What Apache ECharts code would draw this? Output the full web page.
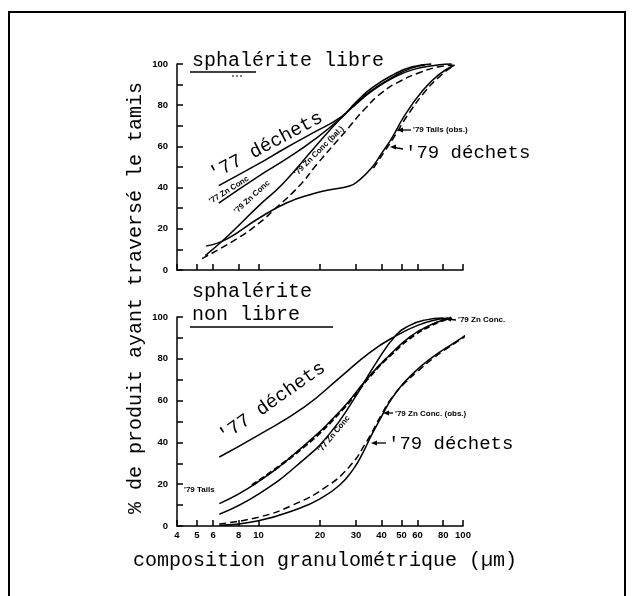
<!DOCTYPE html>
<html>
<head>
<meta charset="utf-8">
<script src="https://cdn.jsdelivr.net/npm/echarts@6/dist/echarts.min.js"></script>
<style>
html,body{margin:0;padding:0;background:#fff;}
#chart{width:633px;height:596px;}
</style>
</head>
<body>
<div id="chart"></div>
<script>
// ---------- DATA (x in µm, y in % passing) ----------
const xTickValues = [4, 5, 6, 8, 10, 20, 30, 40, 50, 60, 80, 100];
const yTickValues = [0, 20, 40, 60, 80, 100];

// Top panel : sphalérite libre
const top77DechetsX = [6.4, 10, 13.2, 18, 25.5, 30, 36, 46, 56, 70];
const top77DechetsY = [41, 51.5, 58.5, 66, 74.5, 81.5, 88.5, 95, 98.5, 100];
const top77ZnX = [6.4, 10, 14, 18.9, 25.5, 30, 36, 46, 56, 65];
const top77ZnY = [32.5, 45.5, 54.5, 63.5, 74, 81, 87.5, 94, 98, 99.5];
const top79ZnX = [5.5, 7, 10, 13.2, 19, 25.5, 30, 36, 46, 58, 75, 88];
const top79ZnY = [7, 16, 31, 42, 60, 74, 80.5, 87, 93.5, 97.5, 99.5, 100];
const top79ZnBalX = [5.3, 7.8, 10, 12, 15.9, 19.2, 27, 33, 40, 50, 62, 75, 89];
const top79ZnBalY = [5.5, 15, 22.5, 29.5, 41, 51, 68, 78, 86, 92, 96, 98.5, 99.5];
const top79DechetsX = [5.56, 7, 10, 13.7, 18.5, 22, 27.9, 31, 35.7, 40, 44.8, 52, 63, 75.9, 91];
const top79DechetsY = [11.7, 15, 25, 32.5, 37, 38.8, 40.8, 43.5, 49.5, 56.6, 63.9, 75.2, 86.6, 94.7, 99.5];
const top79TailsX = [36.5, 41, 46, 53.5, 64.5, 77, 91];
const top79TailsY = [49.5, 57, 64.5, 75, 86, 94, 99.5];

// Bottom panel : sphalérite non libre
const bot77DechetsX = [6.44, 10, 16.8, 25, 35, 47, 60, 75, 85];
const bot77DechetsY = [33, 43.5, 57, 71, 83, 91, 96, 98.8, 99.5];
const bot79TailsX = [6.44, 9.75, 16.5, 25.9, 34, 43, 55, 68.7, 80, 88];
const bot79TailsY = [10.7, 20.5, 38, 56.5, 70.5, 81, 90.5, 96, 98.5, 99.3];
const bot79ZnX = [9.3, 16.5, 25.9, 35, 45, 58, 70, 82, 88];
const bot79ZnY = [19.5, 37.5, 56, 71.5, 82.5, 91.5, 96, 98.8, 99.3];
const bot77ZnX = [6.44, 10.1, 16.5, 22.3, 29, 37, 47.2, 55, 65, 80];
const bot77ZnY = [5.6, 15.5, 31.4, 44.2, 60, 77, 91.5, 96, 98.5, 99.5];
const bot79DechetsX = [6.44, 10, 15.9, 20, 24.9, 29, 32.4, 35.5, 39.1, 45.4, 56.9, 71.3, 89.3, 112, 121];
const bot79DechetsY = [0.3, 2.5, 8.5, 13, 19.5, 27, 35, 43, 50.6, 61.7, 72.9, 80.9, 87.3, 93.6, 96];
const bot79ZnObsX = [6.44, 10.1, 14.7, 21.4, 27.9, 33.6, 39.8, 45, 52, 60, 71, 85, 100, 118];
const bot79ZnObsY = [1, 4.3, 10, 18.7, 28.5, 40, 53, 61.5, 68.5, 74, 80, 85.5, 90, 95];

// ---------- helpers ----------
const lg = v => Math.log10(v);
const pts = (xs, ys) => xs.map((x, i) => [lg(x), ys[i]]);
const MONO = '"Liberation Mono","DejaVu Sans Mono",monospace';
const SANS = '"Liberation Sans",Arial,sans-serif';

function line(name, xs, ys, idx, dashed, width) {
  return {
    name, type: 'line', xAxisIndex: idx, yAxisIndex: idx,
    data: pts(xs, ys), showSymbol: false, symbol: 'none',
    smooth: 0.5, clip: false, silent: true,
    lineStyle: { color: '#000', width: width || 1.5, type: dashed ? (Array.isArray(dashed) ? dashed : [7, 4]) : 'solid' }
  };
}

function xAxis(idx, showLabels) {
  return {
    type: 'value', gridIndex: idx, min: lg(4), max: 2,
    axisLine: { show: true, onZero: false, lineStyle: { color: '#000', width: 1.5 } },
    axisTick: { show: true, inside: true, length: 6, lineStyle: { color: '#000', width: 1.5 },
      customValues: xTickValues.map(lg) },
    axisLabel: { show: showLabels, customValues: xTickValues.map(lg),
      formatter: v => String(Math.round(Math.pow(10, v))),
      color: '#000', fontFamily: SANS, fontWeight: 'bold', fontSize: 9.5, margin: 4 },
    splitLine: { show: false }
  };
}
function yAxis(idx) {
  return {
    type: 'value', gridIndex: idx, min: 0, max: 100, interval: 10,
    axisLine: { show: true, lineStyle: { color: '#000', width: 1.5 } },
    axisTick: { show: true, inside: true, length: 6, lineStyle: { color: '#000', width: 1.5 } },
    axisLabel: { color: '#000', fontFamily: SANS, fontWeight: 'bold', fontSize: 9.5, margin: 9,
      formatter: v => (yTickValues.indexOf(v) >= 0 ? String(v) : '') },
    splitLine: { show: false }
  };
}

function txt(text, x, y, font, rotDeg, align) {
  return {
    type: 'text', x, y, rotation: (rotDeg || 0) * Math.PI / 180, silent: true,
    style: { text, font, fill: '#000', align: align || 'left', verticalAlign: 'middle',
      textAlign: align || 'left', textVerticalAlign: 'middle' }
  };
}
function seg(x1, y1, x2, y2, w, dash) {
  return { type: 'line', silent: true, shape: { x1, y1, x2, y2 },
    style: { stroke: '#000', lineWidth: w || 1.3, lineDash: dash || null } };
}
function arrowHead(x, y, dir) {
  return { type: 'polygon', silent: true,
    shape: { points: [[x, y], [x - dir * 6, y - 2.5], [x - dir * 6, y + 2.5]] },
    style: { fill: '#000' } };
}

const big = '19px ' + MONO;
const big20 = '20px ' + MONO;
const small = 'bold 8px ' + SANS;

const chart = echarts.init(document.getElementById('chart'), null, { renderer: 'canvas' });
chart.setOption({
  backgroundColor: '#fff',
  animation: false,
  grid: [
    { left: 177, width: 286, top: 64, height: 206 },
    { left: 177, width: 286, top: 317, height: 209 }
  ],
  xAxis: [xAxis(0, false), xAxis(1, true)],
  yAxis: [yAxis(0), yAxis(1)],
  series: [
    line("'77 déchets", top77DechetsX, top77DechetsY, 0),
    line("'77 Zn Conc", top77ZnX, top77ZnY, 0),
    line("'79 Zn Conc", top79ZnX, top79ZnY, 0),
    line("'79 Zn Conc (bal.)", top79ZnBalX, top79ZnBalY, 0, true),
    line("'79 déchets", top79DechetsX, top79DechetsY, 0),
    line("'79 Tails (obs.)", top79TailsX, top79TailsY, 0, true),

    line("'77 déchets", bot77DechetsX, bot77DechetsY, 1),
    line("'79 Tails", bot79TailsX, bot79TailsY, 1),
    line("'79 Zn Conc.", bot79ZnX, bot79ZnY, 1, [6, 3], 2.4),
    line("'77 Zn Conc", bot77ZnX, bot77ZnY, 1),
    line("'79 déchets", bot79DechetsX, bot79DechetsY, 1),
    line("'79 Zn Conc. (obs.)", bot79ZnObsX, bot79ZnObsY, 1, true)
  ],
  graphic: [
    { type: 'rect', silent: true, shape: { x: 9, y: 12, width: 616, height: 600 },
      style: { fill: 'none', stroke: '#000', lineWidth: 2 } },
    txt('% de produit ayant traversé le tamis', 136, 298, big20, 90, 'center'),
    txt('composition granulométrique (µm)', 325, 561, big20, 0, 'center'),
    txt('sphalérite libre', 192, 61, big20),
    seg(190, 72, 256, 72, 1.6),
    seg(232, 76, 244, 76, 1, [2, 2]),
    txt("'77 déchets", 266, 146, big, 28, 'center'),
    txt("'77 Zn Conc", 229, 190, small, 32, 'center'),
    txt("'79 Zn Conc", 252, 197, small, 42, 'center'),
    txt("'79 Zn Conc (bal.)", 319, 151, small, 45, 'center'),
    txt("'79 Tails (obs.)", 413, 130, small),
    seg(411, 130, 399, 130), arrowHead(397, 130, -1),
    txt("'79 déchets", 405, 153, big),
    seg(403, 149, 392, 147), arrowHead(390, 147, -1),
    txt('sphalérite', 192, 292, big20),
    txt('non libre', 192, 315, big20),
    seg(190, 327, 333, 327, 1.6),
    txt("'77 déchets", 272, 402, big, 35, 'center'),
    txt("'77 Zn Conc", 334, 434, small, 50, 'center'),
    txt("'79 Tails", 184, 490, small),
    txt("'79 Zn Conc. (obs.)", 395, 414, small),
    seg(393, 413, 385, 413), arrowHead(383, 413, -1),
    txt("'79 déchets", 388, 444, big),
    seg(386, 443, 373, 443), arrowHead(371, 443, -1),
    txt("'79 Zn Conc.", 458, 320, small),
    seg(456, 320, 447, 319), arrowHead(445, 319, -1)
  ]
});
</script>
</body>
</html>
